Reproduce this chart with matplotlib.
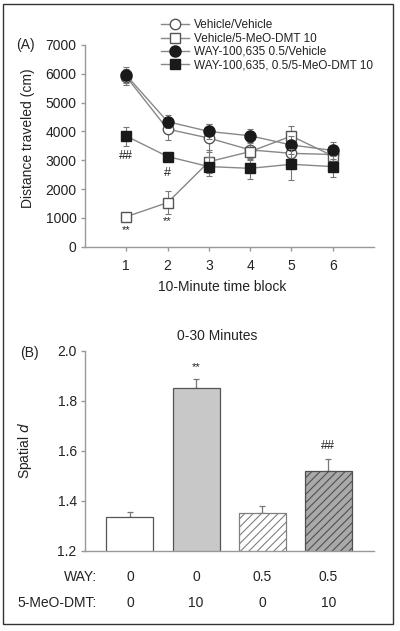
import matplotlib
matplotlib.use("Agg")
import matplotlib.pyplot as plt
from matplotlib.patches import Rectangle
from matplotlib.transforms import blended_transform_factory

plt.rcParams['font.family'] = ['Liberation Sans', 'DejaVu Sans']
plt.rcParams['hatch.linewidth'] = 0.8

# ---- Data: panel A ----
blocks = [1, 2, 3, 4, 5, 6]
veh_veh = [5900, 4080, 3770, 3360, 3240, 3200]
veh_veh_err = [280, 380, 500, 300, 300, 300]
veh_dmt = [1040, 1530, 2950, 3300, 3840, 3150]
veh_dmt_err = [100, 390, 400, 300, 360, 300]
way_veh = [5950, 4340, 4000, 3850, 3530, 3340]
way_veh_err = [280, 230, 260, 230, 300, 310]
way_dmt = [3840, 3130, 2780, 2720, 2860, 2780]
way_dmt_err = [330, 150, 340, 360, 540, 360]
series_labels = ["Vehicle/Vehicle", "Vehicle/5-MeO-DMT 10",
                 "WAY-100,635 0.5/Vehicle", "WAY-100,635, 0.5/5-MeO-DMT 10"]

# ---- Data: panel B ----
groups = [0, 1, 2, 3]
spatial_d = [1.334, 1.852, 1.352, 1.518]
spatial_d_err = [0.022, 0.034, 0.027, 0.048]
way_dose = ["0", "0", "0.5", "0.5"]
dmt_dose = ["0", "10", "0", "10"]

W, H = 400, 631
fig = plt.figure(figsize=(W / 100, H / 100), dpi=100)

def fx(px):
    return px / W

def fy(py):
    return 1 - py / H

FS = 10
LFS = 8.5
SPINE = '#999999'
LINE = '#888888'
TXT = '#222222'

# ---- Panel A ----
ax1 = fig.add_axes([fx(85), fy(246.7), fx(374 - 85), (246.7 - 45) / H])
styles = [
    (veh_veh, veh_veh_err, dict(marker='o', ms=7.5, mfc='white', mec='#555555')),
    (veh_dmt, veh_dmt_err, dict(marker='s', ms=6.5, mfc='white', mec='#555555')),
    (way_veh, way_veh_err, dict(marker='o', ms=8, mfc='#1a1a1a', mec='#1a1a1a')),
    (way_dmt, way_dmt_err, dict(marker='s', ms=6.5, mfc='#1a1a1a', mec='#1a1a1a')),
]
handles = []
for i, (vals, errs, st) in enumerate(styles):
    eb = ax1.errorbar(blocks, vals, yerr=errs, color=LINE, lw=1, ecolor='#777777',
                      elinewidth=0.8, capsize=2.5, capthick=0.8, zorder=3 + i, **st)
    handles.append(eb[0])

ax1.set_xlim(0, 7)
ax1.set_ylim(0, 7000)
ax1.set_xticks(blocks)
ax1.set_yticks(range(0, 7001, 1000))
for s in ['top', 'right']:
    ax1.spines[s].set_visible(False)
for s in ['left', 'bottom']:
    ax1.spines[s].set_color(SPINE)
    ax1.spines[s].set_linewidth(1)
ax1.tick_params(axis='both', colors=SPINE, labelcolor=TXT, labelsize=FS,
                length=3, width=1, direction='out', pad=3)
ax1.tick_params(axis='x', pad=6)

leg = ax1.legend(handles, series_labels, loc='upper left',
                 bbox_to_anchor=(fx(161), fy(19.5)), bbox_transform=fig.transFigure,
                 frameon=False, fontsize=LFS, handlelength=2.4, handletextpad=0.4,
                 labelspacing=0.1, borderpad=0, borderaxespad=0)
for t in leg.get_texts():
    t.set_color(TXT)

# significance marks panel A
ax1.text(1, 580, "**", ha='center', va='center', fontsize=FS - 2, color=TXT)
ax1.text(2, 880, "**", ha='center', va='center', fontsize=FS - 2, color=TXT)
ax1.text(1, 3150, "##", ha='center', va='center', fontsize=FS - 1, color=TXT)
ax1.text(2, 2570, "#", ha='center', va='center', fontsize=FS - 1, color=TXT)

fig.text(fx(16), fy(45), "(A)", ha='left', va='center', fontsize=FS, color=TXT)
fig.text(fx(221.7), fy(286.7), "10-Minute time block", ha='center', va='center',
         fontsize=FS, color=TXT)
fig.text(fx(28), fy(138), "Distance traveled (cm)", ha='center', va='center',
         rotation=90, fontsize=FS, color=TXT)

# ---- Panel B ----
ax2 = fig.add_axes([fx(85), fy(550.7), fx(374 - 85), 200 / H])
faces = ['white', '#c8c8c8', 'white', '#a9a9a9']
edges = ['#555555', '#555555', '#808080', '#505050']
hatches = [None, None, '////', '////']
bars = ax2.bar(groups, spatial_d, width=0.71, color=faces, edgecolor=edges,
               linewidth=0.9, zorder=2)
for b, h in zip(bars, hatches):
    if h:
        b.set_hatch(h)
ax2.errorbar(groups, spatial_d, yerr=[[0] * 4, spatial_d_err], fmt='none',
             ecolor='#777777', elinewidth=0.9, capsize=2.5, capthick=0.9, zorder=1)
ax2.set_xlim(-0.68, 3.69)
ax2.set_ylim(1.2, 2.0)
ax2.set_yticks([1.2, 1.4, 1.6, 1.8, 2.0])
ax2.set_yticklabels(['1.2', '1.4', '1.6', '1.8', '2.0'])
ax2.set_xticks([])
for s in ['top', 'right']:
    ax2.spines[s].set_visible(False)
for s in ['left', 'bottom']:
    ax2.spines[s].set_color(SPINE)
    ax2.spines[s].set_linewidth(1)
ax2.tick_params(axis='y', colors=SPINE, labelcolor=TXT, labelsize=FS,
                length=3, width=1, direction='out', pad=3)

ax2.text(1, 1.934, "**", ha='center', va='center', fontsize=FS - 2, color=TXT)
ax2.text(3, 1.619, "##", ha='center', va='center', fontsize=FS - 1, color=TXT)

fig.text(fx(217.5), fy(336), "0-30 Minutes", ha='center', va='center',
         fontsize=FS, color=TXT)
fig.text(fx(20), fy(353), "(B)", ha='left', va='center', fontsize=FS, color=TXT)
fig.text(fx(25), fy(450), "Spatial $\\it{d}$", ha='center', va='center', rotation=90,
         fontsize=FS, color=TXT)

trans = blended_transform_factory(ax2.transData, fig.transFigure)
fig.text(fx(96.7), fy(577.3), "WAY:", ha='right', va='center', fontsize=FS, color=TXT)
fig.text(fx(96.7), fy(603.3), "5-MeO-DMT:", ha='right', va='center', fontsize=FS, color=TXT)
for g, w, d in zip(groups, way_dose, dmt_dose):
    ax2.text(g, fy(577.3), w, transform=trans, ha='center', va='center',
             fontsize=FS, color=TXT)
    ax2.text(g, fy(603.3), d, transform=trans, ha='center', va='center',
             fontsize=FS, color=TXT)

# outer frame
fig.patches.append(Rectangle((fx(3), fy(623.5)), fx(392.5 - 3), (623.5 - 4) / H,
                             transform=fig.transFigure, fill=False,
                             edgecolor='#333333', linewidth=1))

fig.savefig("out.png", dpi=100)
